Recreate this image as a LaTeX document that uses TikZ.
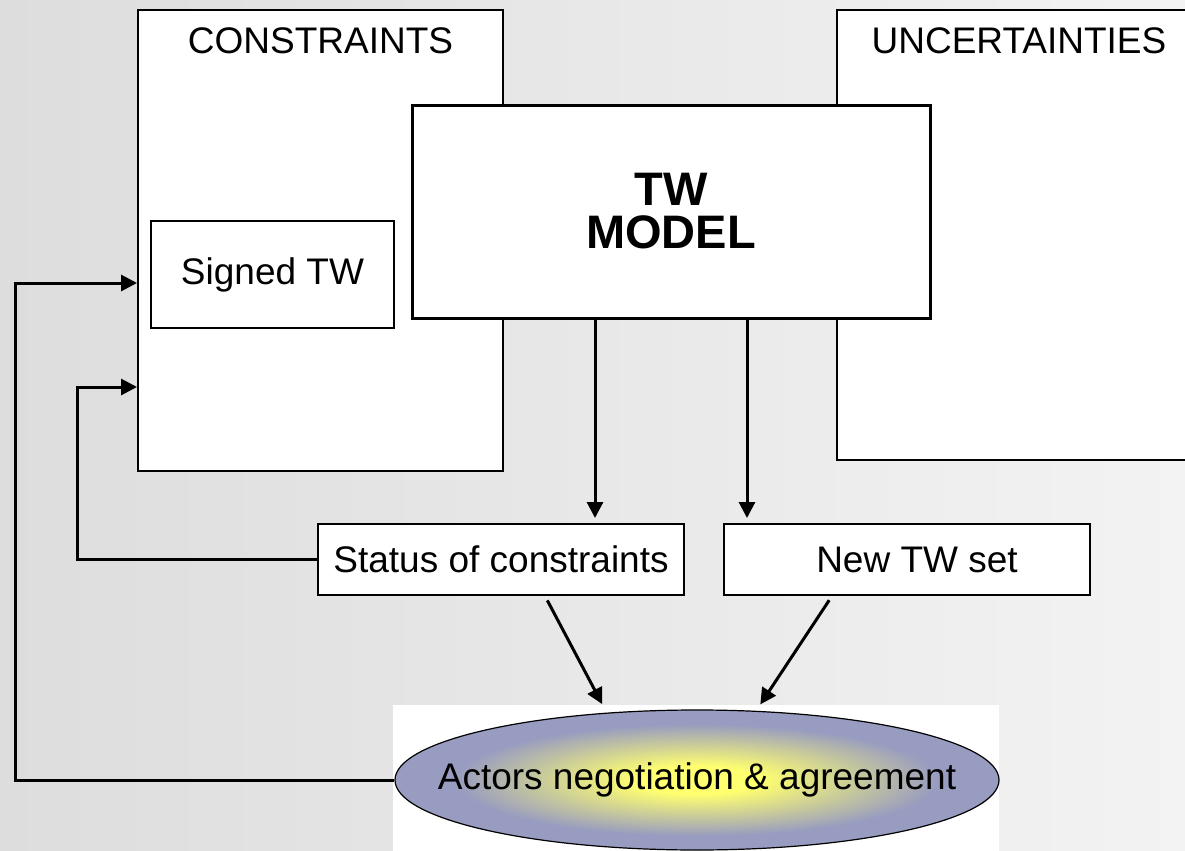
\documentclass[tikz,border=0pt]{standalone}
\usepackage{fontspec}
\setmainfont{Liberation Sans}
\usetikzlibrary{arrows.meta,shapes.geometric,positioning}
\definecolor{bgleft}{RGB}{221,221,221}
\definecolor{bgright}{RGB}{243,243,243}
\definecolor{ellin}{RGB}{255,255,112}
\definecolor{ellout}{RGB}{152,156,192}
\pgfdeclareradialshading{actorglow}{\pgfpoint{0bp}{0bp}}{color(0bp)=(ellin); color(5bp)=(ellin); color(20bp)=(ellout); color(50bp)=(ellout)}
\tikzset{
  box/.style={draw=black, fill=white, line width=1pt, inner sep=0pt},
  flow/.style={line width=1.5pt, -{Triangle[length=8pt,width=8pt]}},
  txt/.style={font=\fontsize{18.5}{22}\selectfont},
}

\begin{document}
\begin{tikzpicture}[x=0.5pt, y=-0.5pt]
		%%%%% START %%%%%
		\clip (0, 0) rectangle (1185, 851);
		\shade[left color=bgleft, right color=bgright] (0, 0) rectangle (1185, 851);
		
		\node[box, minimum width=182.5pt, minimum height=230.5pt] (cons) at (320.5, 240.5) {};
		\node[txt] (constitle) at (320.5, 40.5) {CONSTRAINTS};
		
		\node[box, minimum width=184pt, minimum height=225pt] (unc) at (1021, 235) {};
		\node[txt] (unctitle) at (1019, 40.5) {UNCERTAINTIES};
		
		\node[box, line width=1.5pt, minimum width=259pt, minimum height=106.5pt, align=center,
		      font=\fontsize{23.5}{21.5}\selectfont\bfseries] (tw) at (671, 211.5) {TW\\MODEL};
		
		\node[box, txt, minimum width=121.5pt, minimum height=53.5pt] (signed) at (272.5, 274.5) {Signed TW};
		
		\node[box, txt, minimum width=183pt, minimum height=35.5pt] (status) at (501, 559.5) {Status of constraints};
		\node[box, txt, minimum width=183pt, minimum height=35.5pt] (newtw) at (907, 559.5) {\hspace*{10pt}New TW set};
		
		\fill[white] (393, 705) rectangle (999, 851);
		\node[ellipse, draw=black, line width=0.6pt, shading=actorglow, minimum width=302pt, minimum height=70pt,
		      inner sep=0pt] (actors) at (697, 780) {};
		\node[txt] (actorstext) at (actors.center) {Actors negotiation \& agreement};
		
		% model outputs
		\draw[flow, shorten >=2.5pt] ([xshift=-38pt]tw.south) -- ([xshift=-38pt]tw.south |- status.north);
		\draw[flow, shorten >=2.5pt] ([xshift=38pt]tw.south) -- ([xshift=38pt]tw.south |- newtw.north);
		
		% into the negotiation
		\draw[flow, shorten <=2.5pt, shorten >=3pt] ([xshift=22pt]status.south) -- ([xshift=-46pt]actors.north);
		\draw[flow, shorten <=2.5pt, shorten >=3pt] ([xshift=-37.5pt]newtw.south) -- ([xshift=30pt]actors.north);
		
		% feedback loops
		\coordinate (backA) at (cons.west |- 0, 283);
		\coordinate (backB) at (cons.west |- 0, 387);
		\draw[flow] (actors.west) -- (15, 780) |- (backA);
		\draw[flow] (status.west) -- (77, 559.5) |- (backB);
		%%%%% END %%%%%
	\end{tikzpicture}
\end{document}
